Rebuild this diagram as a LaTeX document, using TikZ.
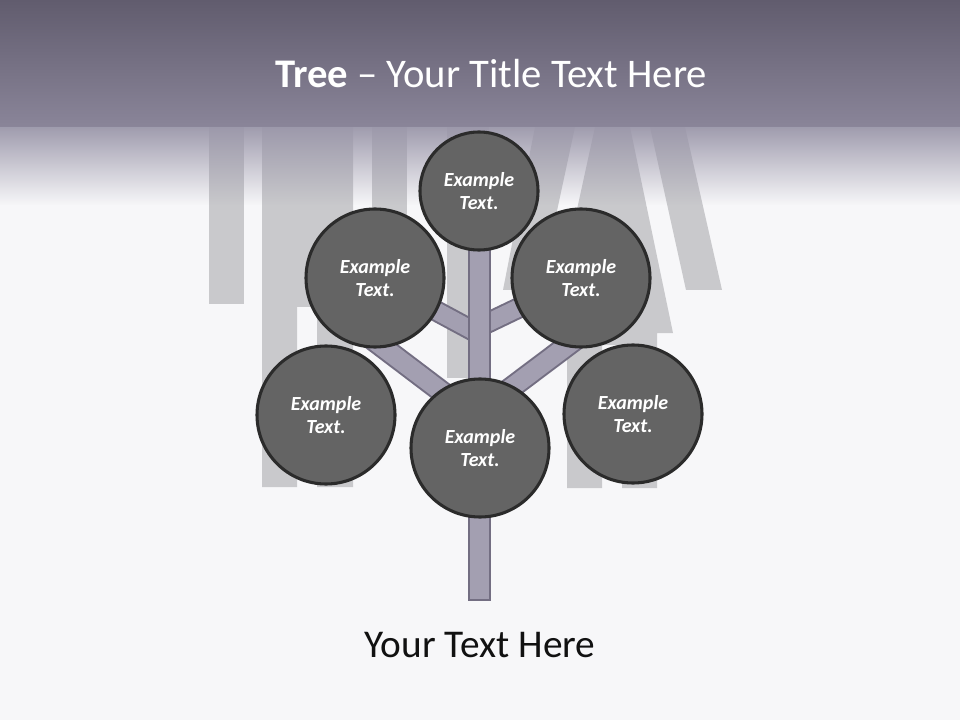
\documentclass[tikz,border=0pt]{standalone}
\usepackage{fontspec}
\setmainfont{Carlito}
\usetikzlibrary{fadings}
\tikzfading[name=hdrfade, top color=transparent!5, middle color=transparent!75, bottom color=transparent!100]
\definecolor{bgc}{HTML}{F7F7F9}
\definecolor{hdrtop}{HTML}{615C6E}
\definecolor{hdrbot}{HTML}{8A8599}
\definecolor{fadec}{HTML}{9A96A9}
\definecolor{barc}{HTML}{C9C9CC}
\definecolor{limbfill}{HTML}{A39FB1}
\definecolor{limbline}{HTML}{736E82}
\definecolor{bubfill}{HTML}{646464}
\definecolor{bubline}{HTML}{2B2B2B}
\definecolor{txtc}{HTML}{111111}
\begin{document}
\begin{tikzpicture}[x=0.75pt,y=-0.75pt,
  bar/.style={fill=barc},
  limbout/.style={draw=limbline, line width=16pt, line cap=butt},
  limbin/.style={draw=limbfill, line width=13pt, line cap=butt},
  bigout/.style={draw=limbline, line width=17pt, line cap=butt},
  bigin/.style={draw=limbfill, line width=14pt, line cap=butt},
  trunkst/.style={draw=limbline, fill=limbfill, line width=1.5pt},
  bub/.style={circle, draw=bubline, fill=bubfill, line width=2.3pt, inner sep=0pt,
    text=white, align=center, font=\fontsize{15pt}{17.5pt}\selectfont\bfseries\itshape},
  bigbub/.style={bub, minimum size=103.5pt},
  smallbub/.style={bub, minimum size=88.5pt}]
% page
\fill[bgc] (0,0) rectangle (960,720);
\useasboundingbox (0,0) rectangle (960,720);
% background bars
\fill[bar] (209,127) rectangle (244,304);
\fill[bar] (262,127) -- (353,127) -- (353,487) -- (317,487) -- (317,307) -- (297,307) -- (297,487) -- (262,487) -- cycle;
\fill[bar] (372,127) rectangle (407,330);
\fill[bar] (447,127) rectangle (489,378);
\fill[bar] (535,127) -- (575,127) -- (540,290) -- (503,290) -- cycle;
\fill[bar] (595,127) -- (630,127) -- (673,333) -- (657,333) -- (657,488) -- (622,488) -- (622,345) -- (602,345) -- (602,488) -- (567,488) -- (567,333) -- (550,333) -- cycle;
\fill[bar] (650,127) -- (685,127) -- (722,290) -- (686,290) -- cycle;
% fade under header
\fill[fadec, path fading=hdrfade] (0,126) rectangle (960,205);
% header
\shade[top color=hdrtop, bottom color=hdrbot] (0,0) rectangle (960,127);
\node[anchor=base, text=white, font=\fontsize{30.5pt}{36pt}\selectfont] (title) at (491,88) {\textbf{Tree} – Your Title Text Here};
% circle centres and junctions
\coordinate (cT) at (479,191);
\coordinate (cUL) at (375,278);
\coordinate (cUR) at (581,278);
\coordinate (cLL) at (326,415);
\coordinate (cB) at (480,448);
\coordinate (cLR) at (633,414);
\coordinate (jUL) at (479,334);
\coordinate (jUR) at (479,327);
\coordinate (jLL) at (479,420);
\coordinate (jLR) at (479,412);
\coordinate (eLL) at (355,326);
\coordinate (eLR) at (600,321);
% branches
\draw[limbout] (cUL) -- (jUL);
\draw[limbin] (cUL) -- (jUL);
\draw[limbout] (cUR) -- (jUR);
\draw[limbin] (cUR) -- (jUR);
\draw[bigout] (eLL) -- (jLL);
\draw[bigin] (eLL) -- (jLL);
\draw[bigout] (eLR) -- (jLR);
\draw[bigin] (eLR) -- (jLR);
% trunk
\draw[trunkst] (469,240) rectangle (490,600);
% circles
\node[smallbub] (nT) at (cT) {Example\\Text.};
\node[bigbub] (nUL) at (cUL) {Example\\Text.};
\node[bigbub] (nUR) at (cUR) {Example\\Text.};
\node[bigbub] (nLL) at (cLL) {Example\\Text.};
\node[bigbub] (nB) at (cB) {Example\\Text.};
\node[bigbub] (nLR) at (cLR) {Example\\Text.};
% caption
\node[anchor=base, text=txtc, font=\fontsize{29.5pt}{35pt}\selectfont] (caption) at (480,657) {Your Text Here};
\end{tikzpicture}
\end{document}
